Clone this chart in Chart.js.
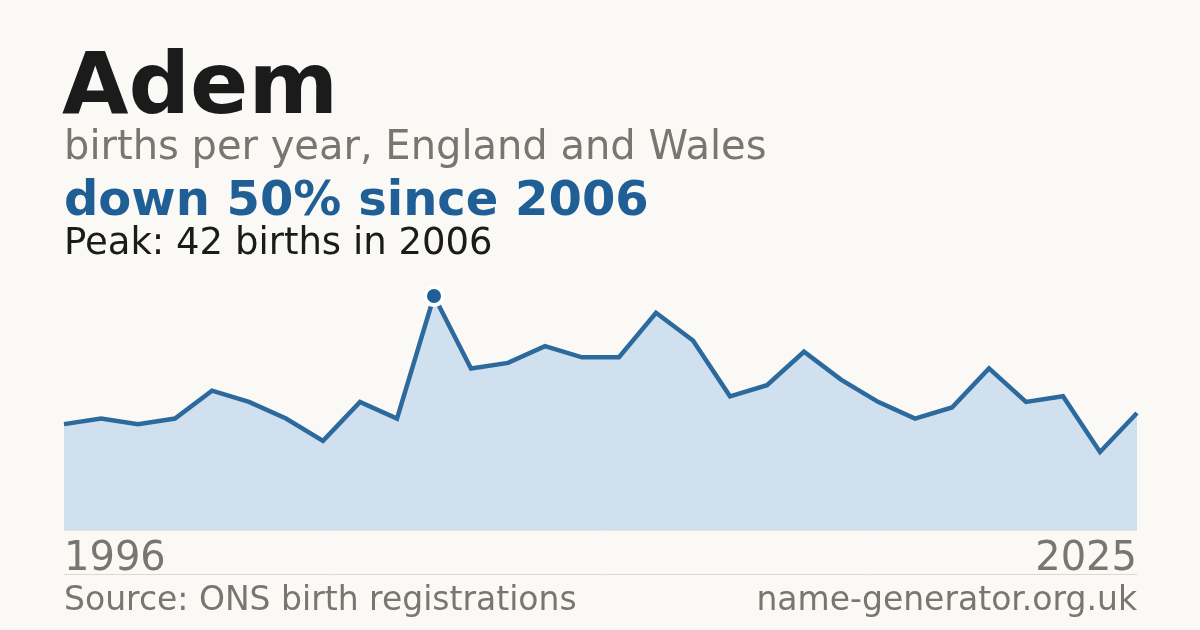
<!DOCTYPE html>
<html>
<head>
<meta charset="utf-8">
<script src="https://cdn.jsdelivr.net/npm/chart.js@4/dist/chart.umd.min.js"></script>
<style>
  html, body { margin: 0; padding: 0; background: #faf9f5; }
  #wrap { position: relative; width: 1200px; height: 630px; }
</style>
</head>
<body>
<div id="wrap"><canvas id="chart" width="1200" height="630"></canvas></div>
<script>
// births per year, 1996-2025
const years = [1996, 1997, 1998, 1999, 2000, 2001, 2002, 2003, 2004, 2005,
               2006, 2007, 2008, 2009, 2010, 2011, 2012, 2013, 2014, 2015,
               2016, 2017, 2018, 2019, 2020, 2021, 2022, 2023, 2024, 2025];
const births = [19, 20, 19, 20, 25, 23, 20, 16, 23, 20,
                42, 29, 30, 33, 31, 31, 39, 34, 24, 26,
                32, 27, 23, 20, 22, 29, 23, 24, 14, 21];

const peakIdx = births.indexOf(Math.max(...births));
const blue = '#1f5f96';

// headline text + baseline rules drawn on the canvas
const textPlugin = {
    id: 'texts',
    afterDraw(chart) {
        const ctx = chart.ctx;
        const area = chart.chartArea;
        ctx.save();
        ctx.textBaseline = 'alphabetic';
        ctx.textAlign = 'left';

        ctx.fillStyle = '#1b1b1b';
        ctx.font = 'bold 86px "DejaVu Sans"';
        ctx.fillText('Adem', 62, 113);

        ctx.fillStyle = '#7a756e';
        ctx.font = '40px "DejaVu Sans"';
        ctx.fillText('births per year, England and Wales', 64, 159);

        ctx.fillStyle = blue;
        ctx.font = 'bold 48px "DejaVu Sans"';
        ctx.fillText('down 50% since 2006', 64, 215);

        ctx.fillStyle = '#1b1b1b';
        ctx.font = '37px "DejaVu Sans"';
        ctx.fillText('Peak: ' + births[peakIdx] + ' births in ' + years[peakIdx], 64, 254);

        // year labels
        ctx.fillStyle = '#7a756e';
        ctx.font = '40px "DejaVu Sans"';
        ctx.fillText(String(years[0]), 64, 570);
        ctx.textAlign = 'right';
        ctx.fillText(String(years[years.length - 1]), area.right, 570);

        // footer
        ctx.font = '33px "DejaVu Sans"';
        ctx.fillText('name-generator.org.uk', area.right, 610);
        ctx.textAlign = 'left';
        ctx.fillText('Source: ONS birth registrations', 64, 610);

        // rules
        ctx.strokeStyle = '#ebe4d8';
        ctx.lineWidth = 1;
        ctx.beginPath();
        ctx.moveTo(area.left, area.bottom + 0.5);
        ctx.lineTo(area.right, area.bottom + 0.5);
        ctx.stroke();

        ctx.strokeStyle = '#dcd8d0';
        ctx.beginPath();
        ctx.moveTo(area.left, 574.5);
        ctx.lineTo(area.right, 574.5);
        ctx.stroke();
        ctx.restore();
    }
};

new Chart(document.getElementById('chart'), {
    type: 'line',
    data: {
        labels: years,
        datasets: [{
            data: births,
            borderColor: '#2c6a9e',
            backgroundColor: '#d0e0ef',
            borderWidth: 4.5,
            fill: 'origin',
            tension: 0,
            clip: false,
            pointRadius: ctx => ctx.dataIndex === peakIdx ? 9 : 0,
            pointHoverRadius: 0,
            pointBackgroundColor: blue,
            pointBorderColor: '#ffffff',
            pointBorderWidth: 4
        }]
    },
    options: {
        responsive: false,
        animation: false,
        devicePixelRatio: 1,
        layout: {
            padding: { left: 64, right: 63, top: 296, bottom: 100 }
        },
        plugins: {
            legend: { display: false },
            tooltip: { enabled: false }
        },
        scales: {
            x: { display: false, offset: false },
            y: { display: false, min: 0, max: 42 }
        }
    },
    plugins: [textPlugin]
});
</script>
</body>
</html>
